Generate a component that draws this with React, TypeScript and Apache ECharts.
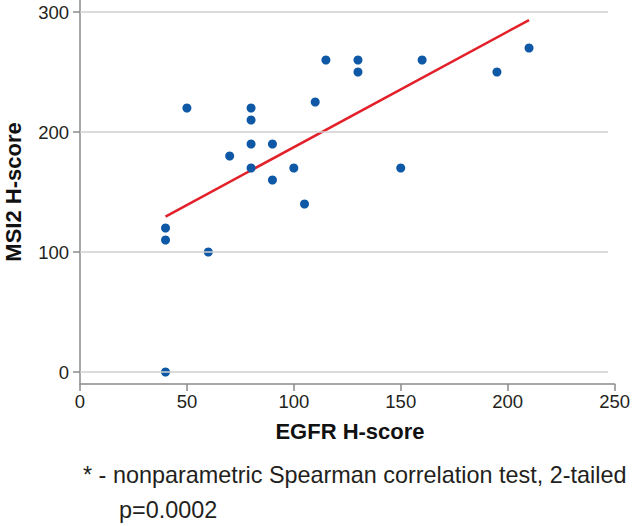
import React, { useEffect, useRef } from "react";
import * as echarts from "echarts";

const egfr = [40, 40, 40, 50, 60, 70, 80, 80, 80, 80, 90, 90, 100, 105, 110, 115, 130, 130, 150, 160, 195, 210];
const msi2 = [0, 110, 120, 220, 100, 180, 170, 190, 210, 220, 190, 160, 170, 140, 225, 260, 260, 250, 170, 260, 250, 270];
const fitX = [40, 210];
const fitY = [129.5, 293.3];
const yTicks = [0, 100, 200, 300];
const xTitle = "EGFR H-score";
const yTitle = "MSI2 H-score";
const note1 = "* - nonparametric Spearman correlation test, 2-tailed";
const note2 = "p=0.0002";

export default function App() {
  const ref = useRef<HTMLDivElement>(null);
  useEffect(() => {
    const chart = echarts.init(ref.current!, null, { renderer: "svg" });
    const font = "'Liberation Sans', Arial, sans-serif";
    chart.setOption({
      animation: false,
      backgroundColor: "#ffffff",
      grid: { left: 80, right: 13, top: 0, height: 384, containLabel: false },
      xAxis: {
        type: "value",
        min: 0,
        max: 250,
        interval: 50,
        axisLine: { onZero: false, lineStyle: { color: "#8a8a8a", width: 1.5 } },
        axisTick: { show: true, length: 7, lineStyle: { color: "#8a8a8a", width: 1.5 } },
        axisLabel: { color: "#231f20", fontSize: 18.5, fontFamily: font, margin: 8 },
        splitLine: { show: false },
      },
      yAxis: {
        type: "value",
        min: -10,
        max: 310,
        axisLine: { show: true, onZero: false, lineStyle: { color: "#8a8a8a", width: 1.5 } },
        axisTick: { show: true, length: 7, customValues: yTicks, lineStyle: { color: "#8a8a8a", width: 1.5 } },
        axisLabel: { color: "#231f20", fontSize: 18.5, fontFamily: font, margin: 11, customValues: yTicks },
        splitLine: { show: false },
      },
      graphic: [
        {
          type: "text",
          x: 350,
          y: 431,
          style: { text: xTitle, fontSize: 22, fontWeight: "bold", fontFamily: font, fill: "#111", textAlign: "center", textVerticalAlign: "middle" },
        },
        {
          type: "text",
          x: 13,
          y: 192,
          rotation: Math.PI / 2,
          style: { text: yTitle, fontSize: 22, fontWeight: "bold", fontFamily: font, fill: "#111", textAlign: "center", textVerticalAlign: "middle" },
        },
        {
          type: "text",
          x: 83,
          y: 486,
          style: { text: note1, fontSize: 23.4, fontFamily: font, fill: "#231f20", textAlign: "left", textVerticalAlign: "bottom" },
        },
        {
          type: "text",
          x: 119,
          y: 521,
          style: { text: note2, fontSize: 23.4, fontFamily: font, fill: "#231f20", textAlign: "left", textVerticalAlign: "bottom" },
        },
      ],
      series: [
        {
          type: "line",
          data: [],
          markLine: {
            silent: true,
            symbol: "none",
            label: { show: false },
            lineStyle: { color: "#cfcfcf", width: 1.5, type: "solid" },
            data: yTicks.map((v) => [{ coord: [0, v] }, { coord: [247, v] }]),
          },
          z: 1,
        },
        {
          type: "line",
          data: fitX.map((x, i) => [x, fitY[i]]),
          symbol: "none",
          lineStyle: { color: "#e3202a", width: 2.5 },
          z: 2,
        },
        {
          type: "scatter",
          data: egfr.map((x, i) => [x, msi2[i]]),
          symbolSize: 9,
          itemStyle: { color: "#0f58a6", opacity: 1 },
          z: 3,
        },
      ],
    });
    return () => chart.dispose();
  }, []);
  return <div ref={ref} style={{ position: "fixed", left: 0, top: 0, width: 633, height: 526 }} />;
}
